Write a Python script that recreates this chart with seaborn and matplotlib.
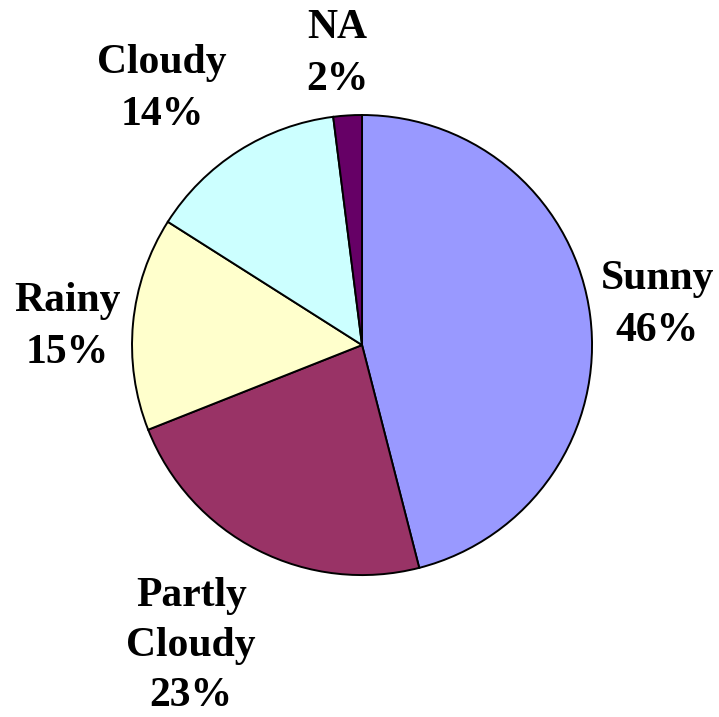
import numpy as np
import matplotlib
matplotlib.use("Agg")
import matplotlib.pyplot as plt
import seaborn as sns

categories = ["Sunny", "Partly\nCloudy", "Rainy", "Cloudy", "NA"]
shares = [46, 23, 15, 14, 2]
slice_colors = ["#9999FF", "#993366", "#FFFFCC", "#CCFFFF", "#660066"]
# label placement: radial distance and angular nudge (degrees) from each wedge's middle
label_distance = [1.297, 1.49, 1.286, 1.426, 1.287]
label_nudge = [1.3, -2.9, 1.1, 5.2, 1.2]
label_spacing = [1.5, 1.4, 1.5, 1.5, 1.5]
label_drop = 0.017

sns.set_theme(style="white")
plt.rcParams["font.family"] = ["Liberation Serif", "DejaVu Serif"]

fig = plt.figure(figsize=(7.19, 7.17), dpi=100)
ax = fig.add_axes([0, 0, 1, 1])

palette = sns.color_palette(slice_colors)
wedges, _ = ax.pie(
    shares,
    colors=palette,
    startangle=90,
    counterclock=False,
    radius=1.0,
    wedgeprops=dict(edgecolor="black", linewidth=1.4),
)

for w, name, pct, d, nudge, ls in zip(wedges, categories, shares, label_distance,
                                      label_nudge, label_spacing):
    mid = np.deg2rad((w.theta1 + w.theta2) / 2 + nudge)
    ax.text(d * np.cos(mid), d * np.sin(mid) - label_drop, f"{name}\n{pct}%",
            ha="center", va="center", fontsize=30, fontweight="bold",
            linespacing=ls, color="black")

ax.set_xlim(-1.574, 1.552)
ax.set_ylim(-1.617, 1.5)
ax.set_aspect("auto")
ax.axis("off")

fig.savefig("out.png", dpi=100, facecolor="white")
